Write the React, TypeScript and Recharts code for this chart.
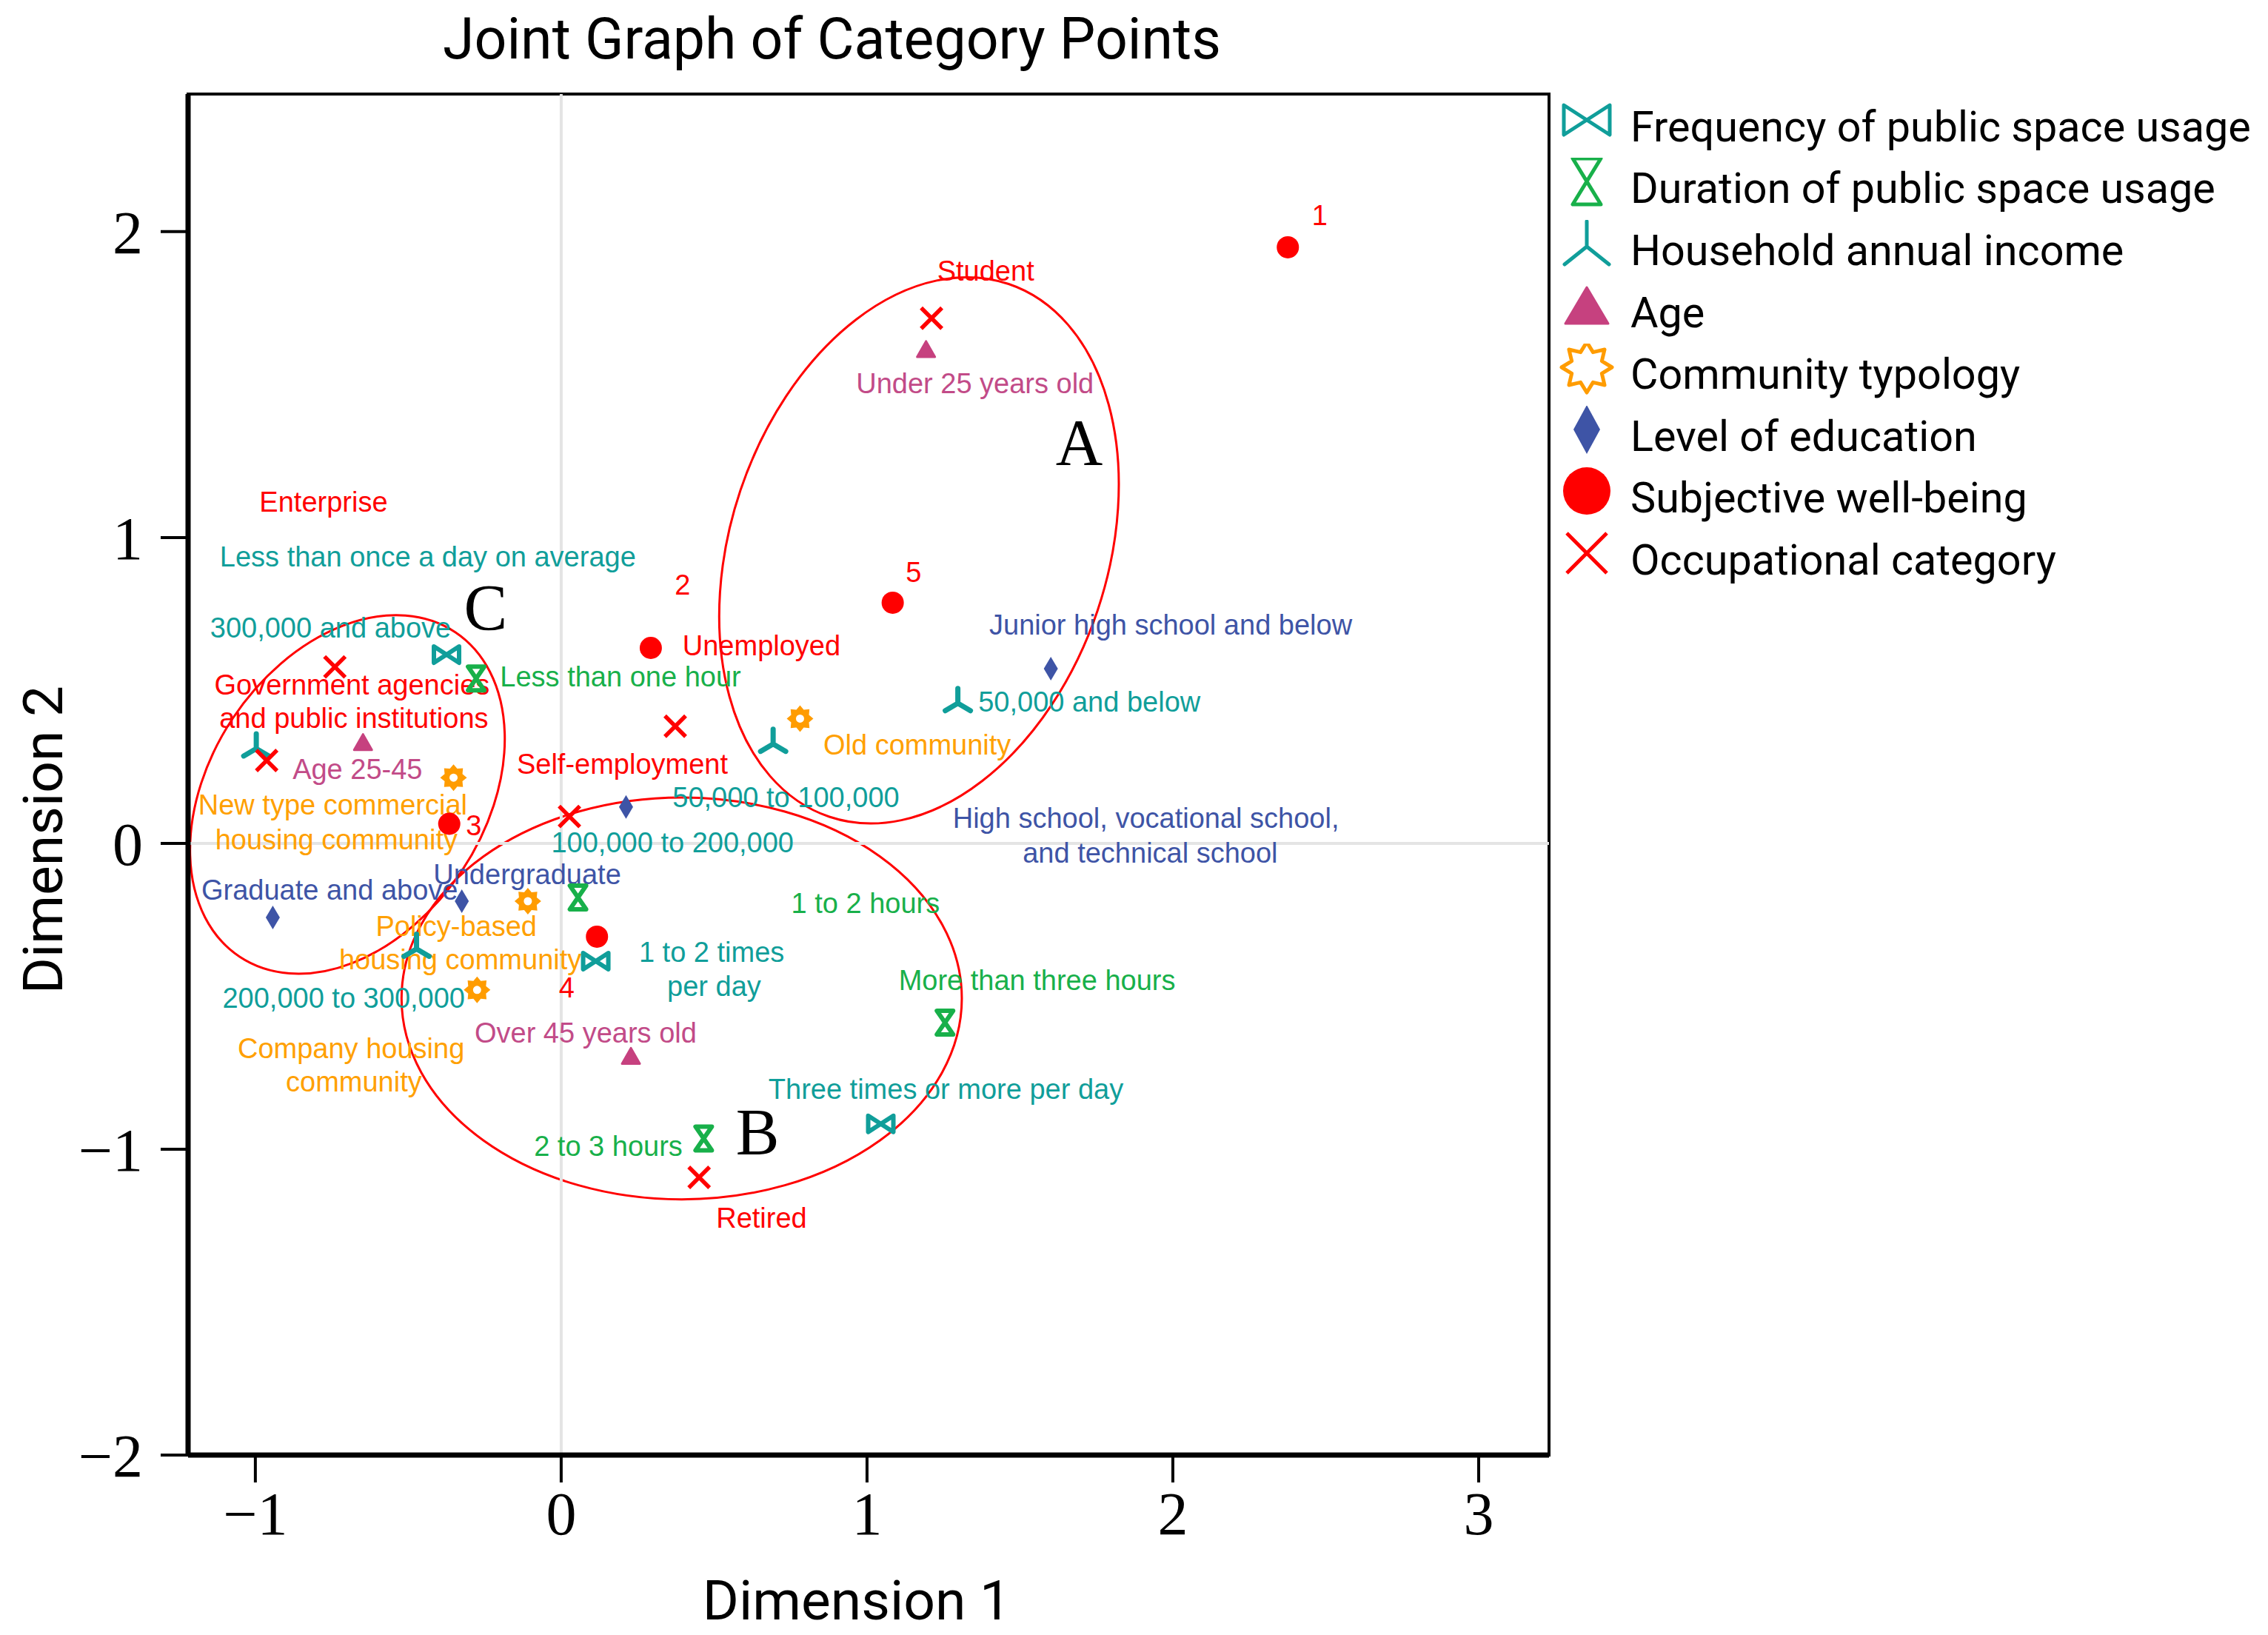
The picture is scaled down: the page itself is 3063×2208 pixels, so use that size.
import React from "react";
import {
  ScatterChart,
  Scatter,
  XAxis,
  YAxis,
  ReferenceLine,
  ReferenceArea,
  Legend,
} from "recharts";

const TEAL = "#109e9a";
const GREEN = "#18b04a";
const BLUE = "#3e54a6";
const PINK = "#c6417f";
const PINK_TEXT = "#c24b88";
const ORANGE = "#ff9c00";
const ORANGE_TEXT = "#ffa000";
const RED = "#ff0000";

const X_DOMAIN: [number, number] = [-1.22, 3.23];
const Y_DOMAIN: [number, number] = [-2, 2.45];
const X_TICKS = [-1, 0, 1, 2, 3];
const Y_TICKS = [-2, -1, 0, 1, 2];

// category points (dimension 1, dimension 2)
const frequencyPoints = [
  { x: -0.375, y: 0.617 },
  { x: 0.113, y: -0.385 },
  { x: 1.045, y: -0.917 },
];
const durationPoints = [
  { x: -0.278, y: 0.539 },
  { x: 0.055, y: -0.177 },
  { x: 1.255, y: -0.586 },
  { x: 0.466, y: -0.965 },
];
const incomePoints = [
  { x: -0.997, y: 0.31 },
  { x: 1.297, y: 0.458 },
  { x: 0.693, y: 0.325 },
  { x: -0.473, y: -0.345 },
];
const agePoints = [
  { x: 1.193, y: 1.615 },
  { x: -0.648, y: 0.33 },
  { x: 0.228, y: -0.696 },
];
const communityPoints = [
  { x: 0.781, y: 0.408 },
  { x: -0.352, y: 0.215 },
  { x: -0.109, y: -0.189 },
  { x: -0.275, y: -0.479 },
];
const educationPoints = [
  { x: 1.601, y: 0.571 },
  { x: 0.212, y: 0.119 },
  { x: -0.325, y: -0.189 },
  { x: -0.943, y: -0.242 },
];
const wellbeingPoints = [
  { x: 2.376, y: 1.949 },
  { x: 0.293, y: 0.639 },
  { x: -0.366, y: 0.064 },
  { x: 0.117, y: -0.305 },
  { x: 1.084, y: 0.787 },
];
const occupationPoints = [
  { x: 1.211, y: 1.717 },
  { x: -0.74, y: 0.577 },
  { x: -0.963, y: 0.271 },
  { x: 0.027, y: 0.088 },
  { x: 0.373, y: 0.383 },
  { x: 0.451, y: -1.092 },
];

// text labels, anchored at their centre
const frequencyLabels = [
  { text: "Less than once a day on average", x: -0.436, y: 0.937 },
  { text: "1 to 2 times", x: 0.492, y: -0.356 },
  { text: "per day", x: 0.5, y: -0.467 },
  { text: "Three times or more per day", x: 1.258, y: -0.803 },
];
const durationLabels = [
  { text: "Less than one hour", x: 0.194, y: 0.545 },
  { text: "1 to 2 hours", x: 0.995, y: -0.196 },
  { text: "More than three hours", x: 1.556, y: -0.448 },
  { text: "2 to 3 hours", x: 0.154, y: -0.99 },
];
const incomeLabels = [
  { text: "300,000 and above", x: -0.754, y: 0.705 },
  { text: "50,000 and below", x: 1.727, y: 0.463 },
  { text: "50,000 to 100,000", x: 0.735, y: 0.151 },
  { text: "100,000 to 200,000", x: 0.364, y: 0.002 },
  { text: "200,000 to 300,000", x: -0.711, y: -0.505 },
];
const ageLabels = [
  { text: "Under 25 years old", x: 1.353, y: 1.503 },
  { text: "Age 25-45", x: -0.666, y: 0.242 },
  { text: "Over 45 years old", x: 0.08, y: -0.62 },
];
const communityLabels = [
  { text: "Old community", x: 1.164, y: 0.322 },
  { text: "New type commercial", x: -0.747, y: 0.126 },
  { text: "housing community", x: -0.735, y: 0.013 },
  { text: "Policy-based", x: -0.343, y: -0.271 },
  { text: "housing community", x: -0.33, y: -0.38 },
  { text: "Company housing", x: -0.687, y: -0.67 },
  { text: "community", x: -0.678, y: -0.78 },
];
const educationLabels = [
  { text: "Junior high school and below", x: 1.993, y: 0.714 },
  { text: "High school, vocational school,", x: 1.912, y: 0.081 },
  { text: "and technical school", x: 1.926, y: -0.032 },
  { text: "Undergraduate", x: -0.111, y: -0.101 },
  { text: "Graduate and above", x: -0.757, y: -0.152 },
];
const wellbeingLabels = [
  { text: "1", x: 2.48, y: 2.053 },
  { text: "2", x: 0.397, y: 0.845 },
  { text: "3", x: -0.286, y: 0.057 },
  { text: "4", x: 0.018, y: -0.472 },
  { text: "5", x: 1.152, y: 0.886 },
];
const occupationLabels = [
  { text: "Student", x: 1.388, y: 1.871 },
  { text: "Enterprise", x: -0.777, y: 1.117 },
  { text: "Government agencies", x: -0.684, y: 0.519 },
  { text: "and public institutions", x: -0.678, y: 0.41 },
  { text: "Self-employment", x: 0.2, y: 0.258 },
  { text: "Unemployed", x: 0.655, y: 0.647 },
  { text: "Retired", x: 0.655, y: -1.225 },
];
const clusterLetters = [
  { text: "A", x: 1.694, y: 1.312 },
  { text: "B", x: 0.642, y: -0.943 },
  { text: "C", x: -0.247, y: 0.771 },
];

// cluster outlines: centre, semi-axes (data units) and tilt in degrees
const clusterEllipses = [
  { name: "A", cx: 1.17, cy: 0.958, rx: 0.616, ry: 0.919, angle: 18.6 },
  { name: "B", cx: 0.394, cy: -0.507, rx: 0.916, ry: 0.657, angle: 0 },
  { name: "C", cx: -0.699, cy: 0.16, rx: 0.45, ry: 0.637, angle: 33.6 },
];

const fmtTick = (v: number) => (v < 0 ? `\u2212${Math.abs(v)}` : `${v}`);

function starPath(R: number, r: number) {
  let d = "";
  for (let i = 0; i < 16; i++) {
    const a = (Math.PI / 8) * i - Math.PI / 2;
    const rad = i % 2 === 0 ? R : r;
    d += (i ? "L" : "M") + (rad * Math.cos(a)).toFixed(2) + "," + (rad * Math.sin(a)).toFixed(2);
  }
  return d + "Z";
}

// plot markers
const Bowtie = ({ cx, cy }: any) => (
  <path
    transform={`translate(${cx},${cy})`}
    d="M-17,-11 L17,11 L17,-11 L-17,11 Z"
    fill="none"
    stroke={TEAL}
    strokeWidth={6}
    strokeLinejoin="round"
  />
);
const Hourglass = ({ cx, cy }: any) => (
  <path
    transform={`translate(${cx},${cy})`}
    d="M-11,-16 L11,-16 L-11,16 L11,16 Z"
    fill="none"
    stroke={GREEN}
    strokeWidth={6}
    strokeLinejoin="round"
  />
);
const Tri = ({ cx, cy }: any) => (
  <path
    transform={`translate(${cx},${cy})`}
    d="M0,0 L0,-20 M0,0 L-17,10 M0,0 L17,10"
    fill="none"
    stroke={TEAL}
    strokeWidth={7}
    strokeLinecap="round"
  />
);
const Triangle = ({ cx, cy }: any) => (
  <path
    transform={`translate(${cx},${cy})`}
    d="M0,-11 L12,10 L-12,10 Z"
    fill={PINK}
    stroke={PINK}
    strokeWidth={3}
    strokeLinejoin="round"
  />
);
const Star = ({ cx, cy }: any) => (
  <g transform={`translate(${cx},${cy})`}>
    <path d={starPath(18, 13)} fill={ORANGE} />
    <circle r={5.5} fill="#fff" />
  </g>
);
const Diamond = ({ cx, cy }: any) => (
  <path transform={`translate(${cx},${cy})`} d="M0,-16 L9.5,0 L0,16 L-9.5,0 Z" fill={BLUE} />
);
const Dot = ({ cx, cy }: any) => <circle cx={cx} cy={cy} r={15} fill={RED} />;
const Cross = ({ cx, cy }: any) => (
  <path
    transform={`translate(${cx},${cy})`}
    d="M-14,-14 L14,14 M-14,14 L14,-14"
    stroke={RED}
    strokeWidth={5.5}
  />
);

const textShape = (color: string, size = 38, family = "'Liberation Sans', Arial, sans-serif") =>
  (props: any) => (
    <text
      x={props.cx}
      y={props.cy}
      textAnchor="middle"
      dominantBaseline="central"
      fill={color}
      fontSize={size}
      fontFamily={family}
    >
      {props.payload.text}
    </text>
  );

// legend icons
const legendIcons: Record<string, React.ReactNode> = {
  bowtie: <path d="M-31,-20 L31,20 L31,-20 L-31,20 Z" fill="none" stroke={TEAL} strokeWidth={5} strokeLinejoin="round" />,
  hourglass: <path d="M-19,-31 L19,-31 L-19,31 L19,31 Z" fill="none" stroke={GREEN} strokeWidth={5} strokeLinejoin="round" />,
  tri: <path d="M0,4 L0,-30 M0,4 L-30,28 M0,4 L30,28" fill="none" stroke={TEAL} strokeWidth={5} strokeLinecap="round" />,
  triangle: <path d="M0,-25 L29,24 L-29,24 Z" fill={PINK} stroke={PINK} strokeWidth={3} strokeLinejoin="round" />,
  star: <path d={starPath(34, 22)} fill="#fff" stroke={ORANGE} strokeWidth={5} strokeLinejoin="round" />,
  diamond: <path d="M0,-33 L18,0 L0,33 L-18,0 Z" fill={BLUE} />,
  circle: <circle r={32} fill={RED} />,
  cross: <path d="M-27,-27 L27,27 M-27,27 L27,-27" stroke={RED} strokeWidth={5} />,
};

const legendItems = [
  { label: "Frequency of public space usage", icon: "bowtie" },
  { label: "Duration of public space usage", icon: "hourglass" },
  { label: "Household annual income", icon: "tri" },
  { label: "Age", icon: "triangle" },
  { label: "Community typology", icon: "star" },
  { label: "Level of education", icon: "diamond" },
  { label: "Subjective well-being", icon: "circle" },
  { label: "Occupational category", icon: "cross" },
];

const renderLegend = () => (
  <div style={{ fontFamily: "Roboto, sans-serif", fontSize: 57.5, color: "#000" }}>
    {legendItems.map((item) => (
      <div key={item.label} style={{ display: "flex", alignItems: "center", height: 83.6 }}>
        <svg width={86} height={84} style={{ flex: "none" }}>
          <g transform="translate(43,32)">{legendIcons[item.icon]}</g>
        </svg>
        <span style={{ marginLeft: 16, whiteSpace: "nowrap", lineHeight: "84px" }}>{item.label}</span>
      </div>
    ))}
  </div>
);

const ellipseShape = (angle: number) => (props: any) => {
  const { x, y, width, height } = props;
  const cx = x + width / 2;
  const cy = y + height / 2;
  return (
    <ellipse
      cx={cx}
      cy={cy}
      rx={width / 2}
      ry={height / 2}
      transform={`rotate(${angle} ${cx} ${cy})`}
      fill="none"
      stroke={RED}
      strokeWidth={3}
    />
  );
};

export default function App() {
  return (
    <div style={{ position: "absolute", left: 0, top: 0, width: 3063, height: 2208, background: "#fff" }}>
      <div
        style={{
          position: "absolute",
          left: 598,
          width: 1000,
          top: 13,
          height: 80,
          lineHeight: "80px",
          textAlign: "center",
          fontFamily: "Roboto, sans-serif",
          fontSize: 77,
          color: "#000",
          whiteSpace: "nowrap",
        }}
      >
        Joint Graph of Category Points
      </div>
      <ScatterChart
        width={3063}
        height={2208}
        margin={{ top: 127, right: 971, left: 154, bottom: 143 }}
      >
        <XAxis
          type="number"
          dataKey="x"
          domain={X_DOMAIN}
          ticks={X_TICKS}
          allowDataOverflow
          interval={0}
          height={100}
          tickSize={37}
          tickMargin={12}
          tickFormatter={fmtTick}
          tick={{ fontSize: 82, fill: "#000", fontFamily: "'Liberation Serif', serif" }}
          axisLine={{ stroke: "#000", strokeWidth: 7 }}
          tickLine={{ stroke: "#000", strokeWidth: 4 }}
          label={{
            content: (p: any) => (
              <text
                x={p.viewBox.x + p.viewBox.width / 2 - 16}
                y={p.viewBox.y + 222}
                textAnchor="middle"
                fontSize={75}
                fontFamily="Roboto, sans-serif"
                fill="#000"
              >
                Dimension 1
              </text>
            ),
          }}
        />
        <YAxis
          type="number"
          dataKey="y"
          domain={Y_DOMAIN}
          ticks={Y_TICKS}
          allowDataOverflow
          interval={0}
          width={100}
          tickSize={37}
          tickMargin={24}
          tickFormatter={fmtTick}
          tick={{ fontSize: 82, fill: "#000", fontFamily: "'Liberation Serif', serif" }}
          axisLine={{ stroke: "#000", strokeWidth: 7 }}
          tickLine={{ stroke: "#000", strokeWidth: 4 }}
          label={{
            content: (p: any) => {
              const lx = p.viewBox.x - 70;
              const ly = p.viewBox.y + p.viewBox.height / 2 + 88;
              return (
                <text
                  x={lx}
                  y={ly}
                  transform={`rotate(-90 ${lx} ${ly})`}
                  textAnchor="middle"
                  fontSize={75}
                  fontFamily="Roboto, sans-serif"
                  fill="#000"
                >
                  Dimension 2
                </text>
              );
            },
          }}
        />
        <ReferenceLine x={0} stroke="#e4e4e4" strokeWidth={4} />
        <ReferenceLine y={0} stroke="#e4e4e4" strokeWidth={4} />

        <Scatter data={frequencyLabels} shape={textShape(TEAL)} legendType="none" isAnimationActive={false} />
        <Scatter data={durationLabels} shape={textShape(GREEN)} legendType="none" isAnimationActive={false} />
        <Scatter data={incomeLabels} shape={textShape(TEAL)} legendType="none" isAnimationActive={false} />
        <Scatter data={ageLabels} shape={textShape(PINK_TEXT)} legendType="none" isAnimationActive={false} />
        <Scatter data={communityLabels} shape={textShape(ORANGE_TEXT)} legendType="none" isAnimationActive={false} />
        <Scatter data={educationLabels} shape={textShape(BLUE)} legendType="none" isAnimationActive={false} />
        <Scatter data={wellbeingLabels} shape={textShape(RED)} legendType="none" isAnimationActive={false} />
        <Scatter data={occupationLabels} shape={textShape(RED)} legendType="none" isAnimationActive={false} />
        <Scatter
          data={clusterLetters}
          shape={textShape("#000", 88, "'Liberation Serif', serif")}
          legendType="none"
          isAnimationActive={false}
        />

        <Scatter name="Frequency of public space usage" data={frequencyPoints} shape={Bowtie} isAnimationActive={false} />
        <Scatter name="Duration of public space usage" data={durationPoints} shape={Hourglass} isAnimationActive={false} />
        <Scatter name="Household annual income" data={incomePoints} shape={Tri} isAnimationActive={false} />
        <Scatter name="Age" data={agePoints} shape={Triangle} isAnimationActive={false} />
        <Scatter name="Community typology" data={communityPoints} shape={Star} isAnimationActive={false} />
        <Scatter name="Level of education" data={educationPoints} shape={Diamond} isAnimationActive={false} />
        <Scatter name="Subjective well-being" data={wellbeingPoints} shape={Dot} isAnimationActive={false} />
        <Scatter name="Occupational category" data={occupationPoints} shape={Cross} isAnimationActive={false} />

        {clusterEllipses.map((e) => (
          <ReferenceArea
            key={e.name}
            x1={e.cx - e.rx}
            x2={e.cx + e.rx}
            y1={e.cy - e.ry}
            y2={e.cy + e.ry}
            shape={ellipseShape(e.angle)}
          />
        ))}
        <ReferenceArea
          x1={X_DOMAIN[0]}
          x2={X_DOMAIN[1]}
          y1={Y_DOMAIN[0]}
          y2={Y_DOMAIN[1]}
          fill="none"
          fillOpacity={0}
          stroke="#000"
          strokeWidth={4}
        />
        <Legend
          content={renderLegend}
          layout="vertical"
          verticalAlign="middle"
          align="center"
          wrapperStyle={{ left: 2100, top: 130, width: 963 }}
        />
      </ScatterChart>
    </div>
  );
}
